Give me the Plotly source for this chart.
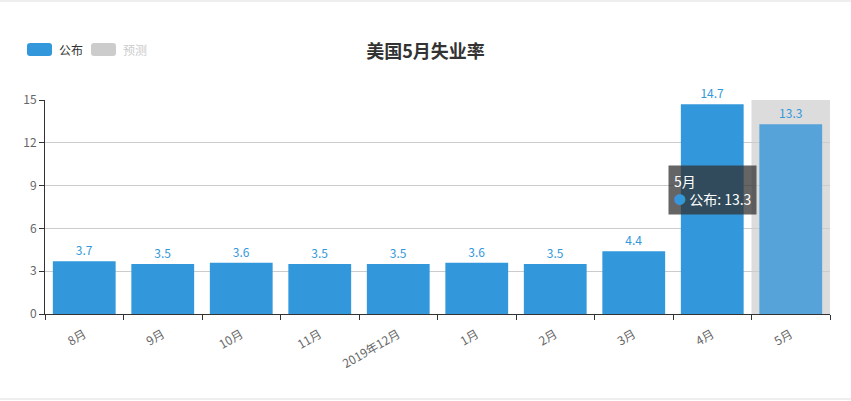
import plotly.graph_objects as go

# 美国失业率 (%)
months = ["8月", "9月", "10月", "11月", "2019年12月", "1月", "2月", "3月", "4月", "5月"]
published = [3.7, 3.5, 3.6, 3.5, 3.5, 3.6, 3.5, 4.4, 14.7, 13.3]
forecast = [None] * len(months)
y_ticks = [0, 3, 6, 9, 12, 15]
legend_names = ["公布", "预测"]

hover_month = "5月"
FONT = "Noto Sans CJK SC, Microsoft YaHei, sans-serif"
BLUE = "#3398db"

# plot area in pixels (used to place page decorations in paper coords)
L, R, T, B = 45, 21, 100, 87
PW, PH = 851 - L - R, 401 - T - B


def px_x(x):
    return (x - L) / PW


def px_y(y):
    return (401 - B - y) / PH


bar_colors = ["#56a3d9" if m == hover_month else BLUE for m in months]

fig = go.Figure()
fig.add_trace(go.Bar(
    x=months, y=published, name=legend_names[0],
    marker=dict(color=bar_colors, line=dict(width=0)),
    text=[str(v) for v in published], textposition="outside",
    textfont=dict(color=BLUE, size=12), cliponaxis=False,
))
fig.add_trace(go.Bar(
    x=months, y=forecast, name=legend_names[1],
    marker=dict(color="#cccccc"), visible="legendonly",
))

# hover shadow behind the highlighted category
idx = months.index(hover_month)
fig.add_shape(type="rect", xref="x", yref="y", x0=idx - 0.5, x1=idx + 0.5,
              y0=0, y1=max(y_ticks), fillcolor="#dcdcdc", line_width=0, layer="below")

# tooltip
fig.add_annotation(
    xref="x", yref="y", x=idx - 0.5, y=10.45, xanchor="right", yanchor="top",
    xshift=5, showarrow=False, align="left",
    text="5月<br><span style='color:#3398db;font-size:12px'>●</span> 公布: 13.3",
    font=dict(color="white", size=14, family=FONT),
    bgcolor="rgba(50,50,50,0.75)", borderpad=5, bordercolor="rgba(0,0,0,0)",
)

# legend drawn by hand (rounded swatches like the original)
legend_items = [(legend_names[0], BLUE, "#333333", 27), (legend_names[1], "#cccccc", "#cccccc", 91)]
for name, swatch, txt, x0 in legend_items:
    fig.add_shape(type="path", xref="paper", yref="paper",
                  path=(f"M {px_x(x0 + 3)} {px_y(43)} L {px_x(x0 + 22)} {px_y(43)} "
                        f"Q {px_x(x0 + 25)} {px_y(43)} {px_x(x0 + 25)} {px_y(46)} "
                        f"L {px_x(x0 + 25)} {px_y(53)} "
                        f"Q {px_x(x0 + 25)} {px_y(56)} {px_x(x0 + 22)} {px_y(56)} "
                        f"L {px_x(x0 + 3)} {px_y(56)} "
                        f"Q {px_x(x0)} {px_y(56)} {px_x(x0)} {px_y(53)} "
                        f"L {px_x(x0)} {px_y(46)} "
                        f"Q {px_x(x0)} {px_y(43)} {px_x(x0 + 3)} {px_y(43)} Z"),
                  fillcolor=swatch, line_width=0)
    fig.add_annotation(xref="paper", yref="paper", x=px_x(x0 + 30), y=px_y(49.5),
                       xanchor="left", yanchor="middle", showarrow=False,
                       text=name, font=dict(size=12, color=txt, family=FONT))

# page borders
for yy in (1, 399):
    fig.add_shape(type="line", xref="paper", yref="paper", x0=px_x(0), x1=px_x(851),
                  y0=px_y(yy), y1=px_y(yy), line=dict(color="#e8e8e8", width=1.5))

fig.update_layout(
    width=851, height=401,
    margin=dict(l=L, r=R, t=T, b=B),
    paper_bgcolor="white", plot_bgcolor="white",
    font=dict(family=FONT, color="#666666", size=12),
    title=dict(text="<b>美国5月失业率</b>", x=0.5, xref="container", xanchor="center",
               y=(401 - 52) / 401, yanchor="middle",
               font=dict(size=18, color="#333333", family=FONT)),
    bargap=0.2,
    showlegend=False,
    xaxis=dict(
        categoryorder="array", categoryarray=months,
        showline=True, linecolor="#333333", linewidth=1,
        ticks="outside", tickson="boundaries", ticklen=5, tickcolor="#333333",
        tickangle=-30, tickfont=dict(size=12, color="#666666"), ticklabelstandoff=8,
        showgrid=False, fixedrange=True,
    ),
    yaxis=dict(
        range=[0, 15], tickvals=y_ticks,
        showline=True, linecolor="#333333", linewidth=1,
        ticks="outside", ticklen=5, tickcolor="#333333",
        gridcolor="#cccccc", gridwidth=1, zeroline=False,
        tickfont=dict(size=12, color="#666666"),
    ),
)

fig.write_html("out.html", config={"displayModeBar": False},
               post_script="document.body.style.margin='0';")
